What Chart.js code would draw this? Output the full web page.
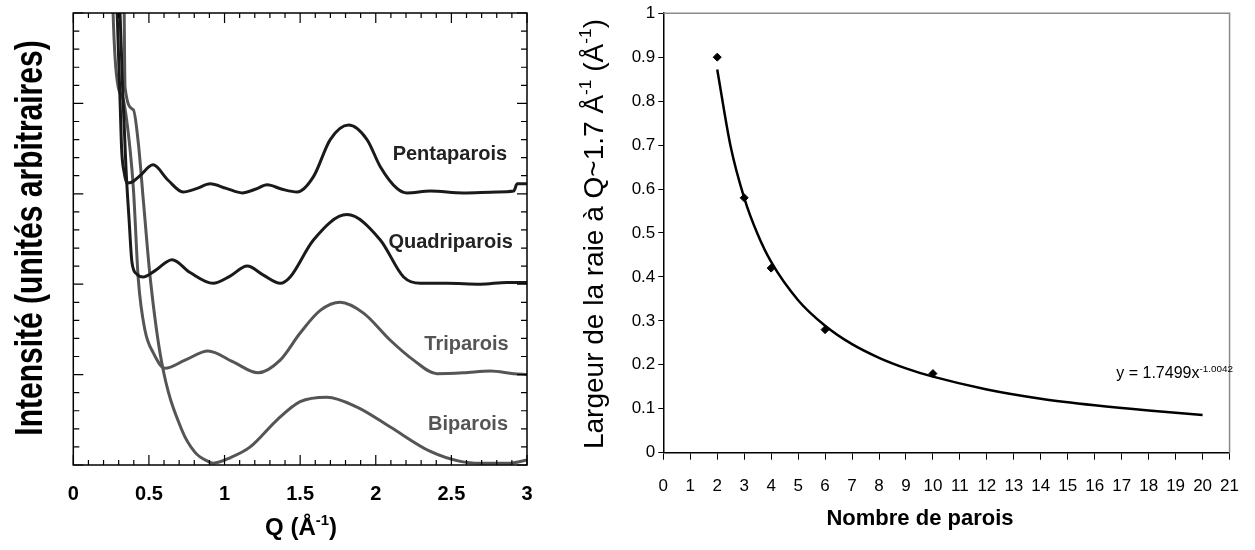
<!DOCTYPE html>
<html>
<head>
<meta charset="utf-8">
<script src="https://cdn.jsdelivr.net/npm/chart.js@4.4.1/dist/chart.umd.min.js"></script>
<style>
body{margin:0;background:#fff;}
#left{position:absolute;left:0;top:0;}
#right{position:absolute;left:560px;top:0;}
</style>
</head>
<body>
<canvas id="left" width="560" height="550"></canvas>
<canvas id="right" width="695" height="550"></canvas>
<script>
// left panel : I(Q), each curve shifted by one unit
const qPenta = [0.284,0.309,0.320,0.336,0.353,0.388,0.441,0.527,0.627,0.726,0.819,0.905,1.011,1.117,1.203,1.282,1.381,1.480,1.588,1.699,1.820,1.942,2.030,2.140,2.207,2.361,2.579,2.802,2.912,2.935,3.00];
const iPenta = [5.3,4.04,3.48,3.24,3.12,3.13,3.20,3.32,3.15,3.02,3.06,3.11,3.06,3.01,3.05,3.10,3.05,3.02,3.19,3.60,3.76,3.60,3.30,3.06,3.01,3.03,3.01,3.02,3.03,3.11,3.11];
const qQuadri = [0.303,0.329,0.349,0.369,0.388,0.421,0.461,0.541,0.653,0.772,0.924,1.037,1.150,1.257,1.369,1.434,1.588,1.809,2.030,2.184,2.295,2.471,2.692,2.868,3.00];
const iQuadri = [5.3,4.04,3.26,2.71,2.24,2.11,2.08,2.15,2.27,2.13,2.01,2.09,2.20,2.10,2.01,2.08,2.49,2.77,2.49,2.08,2.01,2.01,2.00,2.02,2.02];
const qTri = [0.258,0.263,0.276,0.298,0.331,0.376,0.398,0.430,0.474,0.529,0.607,0.739,0.891,1.057,1.222,1.368,1.500,1.633,1.765,1.919,2.096,2.250,2.405,2.581,2.758,2.912,3.00];
const iTri = [5.3,5.0,4.51,4.17,4.04,3.48,3.04,2.05,1.49,1.24,1.07,1.16,1.26,1.14,1.02,1.16,1.46,1.71,1.80,1.68,1.38,1.16,1.01,1.02,1.04,1.01,1.00];
const qBi = [0.335,0.342,0.397,0.430,0.463,0.508,0.585,0.717,0.805,0.891,0.925,1.037,1.170,1.348,1.500,1.677,1.876,2.096,2.361,2.559,2.692,2.890,3.00];
const iBi = [5.3,4.18,3.93,3.56,2.93,2.08,1.13,0.39,0.14,0.04,0.02,0.08,0.20,0.50,0.70,0.75,0.64,0.42,0.15,0.04,0.02,0.02,0.055];

// right panel : largeur de raie vs nombre de parois
const nbParois = [2,3,4,6,10];
const largeur = [0.90,0.58,0.42,0.28,0.18];
const fitX = [2,2.5,3,3.5,4,5,6,7,8,9,10,12,14,16,18,20];
const fitY = [0.872,0.696,0.580,0.497,0.434,0.347,0.289,0.247,0.216,0.192,0.173,0.144,0.123,0.108,0.096,0.086];

const FONT = '"Liberation Sans", Arial, sans-serif';
const pts = (xs, ys) => xs.map((x, i) => ({x: x, y: ys[i]}));

// text with superscripts, parts = [[text, isSup], ...]
function richText(ctx, parts, x, y, size, weight, align, color){
  const f = s => weight + ' ' + s + 'px ' + FONT;
  let w = 0;
  parts.forEach(p => { ctx.font = f(p[1] ? size*0.62 : size); w += ctx.measureText(p[0]).width; });
  let cx = align === 'center' ? x - w/2 : (align === 'right' ? x - w : x);
  ctx.fillStyle = color;
  ctx.textAlign = 'left';
  ctx.textBaseline = 'alphabetic';
  parts.forEach(p => {
    ctx.font = f(p[1] ? size*0.62 : size);
    ctx.fillText(p[0], cx, p[1] ? y - size*0.42 : y);
    cx += ctx.measureText(p[0]).width;
  });
}
function rotText(ctx, parts, x, y, size, weight, color, squeeze){
  ctx.save();
  ctx.translate(x, y);
  ctx.rotate(-Math.PI/2);
  ctx.scale(squeeze || 1, 1);
  richText(ctx, parts, 0, 0, size, weight, 'center', color);
  ctx.restore();
}

const leftDecor = {
  id: 'leftDecor',
  afterDraw(chart){
    const ctx = chart.ctx, a = chart.chartArea, sx = chart.scales.x, sy = chart.scales.y;
    ctx.save();
    ctx.strokeStyle = '#000';
    ctx.lineWidth = 1.5;
    ctx.strokeRect(a.left, a.top, a.right - a.left, a.bottom - a.top);
    ctx.lineWidth = 1.2;
    ctx.beginPath();
    for (let k = 0; k <= 30; k++){
      const px = sx.getPixelForValue(k/10), len = k % 5 === 0 ? 10 : 5;
      ctx.moveTo(px, a.bottom); ctx.lineTo(px, a.bottom - len);
      ctx.moveTo(px, a.top); ctx.lineTo(px, a.top + len);
    }
    for (let k = 0; k <= 25; k++){
      const py = sy.getPixelForValue(k/5), len = k % 5 === 0 ? 10 : 6;
      ctx.moveTo(a.left, py); ctx.lineTo(a.left + len, py);
      ctx.moveTo(a.right, py); ctx.lineTo(a.right - len, py);
    }
    ctx.stroke();
    // curve names
    const names = [['Pentaparois', 2.49, 3.37, '#222'], ['Quadriparois', 2.495, 2.40, '#222'], ['Triparois', 2.60, 1.27, '#555'], ['Biparois', 2.61, 0.39, '#555']];
    names.forEach(n => richText(ctx, [[n[0], false]], sx.getPixelForValue(n[1]), sy.getPixelForValue(n[2]), 20, 'bold', 'center', n[3]));
    rotText(ctx, [['Intensité (unités arbitraires)', false]], 42, 238, 38, 'bold', '#000', 0.79);
    richText(ctx, [['Q (Å', false], ['-1', true], [')', false]], 301, 535, 24, 'bold', 'center', '#000');
    ctx.restore();
  }
};

const rightDecor = {
  id: 'rightDecor',
  afterDraw(chart){
    const ctx = chart.ctx, a = chart.chartArea, sx = chart.scales.x, sy = chart.scales.y;
    ctx.save();
    ctx.strokeStyle = '#8a8a8a';
    ctx.lineWidth = 1.5;
    ctx.beginPath();
    ctx.moveTo(a.left, a.top); ctx.lineTo(a.right, a.top); ctx.lineTo(a.right, a.bottom);
    ctx.stroke();
    richText(ctx, [['y = 1.7499x', false], ['-1.0042', true]], sx.getPixelForValue(16.8), sy.getPixelForValue(0.169), 16, 'normal', 'left', '#000');
    richText(ctx, [['Nombre de parois', false]], 360, 525, 22, 'bold', 'center', '#000');
    rotText(ctx, [['Largeur de la raie à Q~1.7 Å', false], ['-1', true], [' (Å', false], ['-1', true], [')', false]], 43, 234, 28, 'normal', '#000');
    ctx.restore();
  }
};

const lineDs = (label, xs, ys, color) => ({label: label, data: pts(xs, ys), borderColor: color, borderWidth: 3, pointRadius: 0, cubicInterpolationMode: 'monotone', fill: false});

new Chart(document.getElementById('left'), {
  type: 'line',
  data: {datasets: [
    lineDs('Pentaparois', qPenta, iPenta, '#1a1a1a'),
    lineDs('Quadriparois', qQuadri, iQuadri, '#1a1a1a'),
    lineDs('Triparois', qTri, iTri, '#555555'),
    lineDs('Biparois', qBi, iBi, '#555555')
  ]},
  options: {
    responsive: false, animation: false, devicePixelRatio: 1,
    layout: {padding: {top: 13, right: 33, left: 0, bottom: 0}},
    plugins: {legend: {display: false}, tooltip: {enabled: false}},
    scales: {
      x: {type: 'linear', min: 0, max: 3,
        grid: {display: false, drawTicks: false}, border: {display: false},
        ticks: {stepSize: 0.5, padding: 17, color: '#000', font: {family: FONT, size: 20, weight: 'bold'}, callback: v => +v.toFixed(1)},
        afterFit: s => { s.height = 85; }},
      y: {type: 'linear', min: 0, max: 5,
        grid: {display: false, drawTicks: false}, border: {display: false},
        ticks: {display: false},
        afterFit: s => { s.width = 73.3; }}
    }
  },
  plugins: [leftDecor]
});

new Chart(document.getElementById('right'), {
  type: 'scatter',
  data: {datasets: [
    {label: 'points', data: pts(nbParois, largeur), pointStyle: 'rectRot', pointRadius: 4, borderWidth: 1, backgroundColor: '#000', borderColor: '#000', showLine: false},
    {label: 'fit', data: pts(fitX, fitY), showLine: true, borderColor: '#000', borderWidth: 2.5, pointRadius: 0, cubicInterpolationMode: 'monotone'}
  ]},
  options: {
    responsive: false, animation: false, devicePixelRatio: 1,
    layout: {padding: {top: 12, right: 20, left: 0, bottom: 0}},
    plugins: {legend: {display: false}, tooltip: {enabled: false}},
    scales: {
      x: {type: 'linear', min: 0, max: 21,
        grid: {drawOnChartArea: false, drawTicks: true, tickLength: 7, color: '#000', lineWidth: 1},
        border: {color: '#000', width: 1.5},
        ticks: {stepSize: 1, padding: 16, color: '#000', font: {family: FONT, size: 17}},
        afterFit: s => { s.height = 97.3; }},
      y: {type: 'linear', min: 0, max: 1,
        grid: {drawOnChartArea: false, drawTicks: true, tickLength: 5, color: '#000', lineWidth: 1},
        border: {color: '#000', width: 1.5},
        ticks: {stepSize: 0.1, padding: 3, color: '#000', font: {family: FONT, size: 17}, callback: v => +v.toFixed(1)},
        afterFit: s => { s.width = 103.3; }}
    }
  },
  plugins: [rightDecor]
});
</script>
</body>
</html>
